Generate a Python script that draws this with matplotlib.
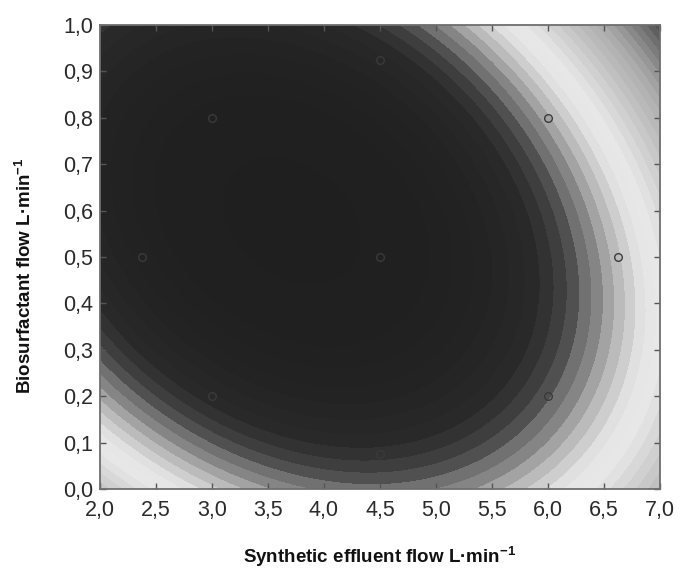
import numpy as np
import matplotlib
matplotlib.use("Agg")
import matplotlib.pyplot as plt
from matplotlib.colors import LinearSegmentedColormap, Normalize

plt.rcParams['font.family'] = ['Liberation Sans', 'DejaVu Sans']
plt.rcParams['mathtext.fontset'] = 'custom'
plt.rcParams['mathtext.rm'] = 'Liberation Sans:bold'
plt.rcParams['mathtext.it'] = 'Liberation Sans:bold'
plt.rcParams['mathtext.bf'] = 'Liberation Sans:bold'

# Fitted quadratic response surface in coded units
# u = (x - x_center) / x_half, v = (y - y_center) / y_half
x_center, x_half = 4.5, 2.5
y_center, y_half = 0.5, 0.5
coef_uu = 1.0
coef_vv = 0.816
coef_uv = 0.50
coef_u = 0.55
coef_v = -0.098

# Experimental design points (central composite design)
design_x = [3.0, 3.0, 6.0, 6.0, 2.379, 6.621, 4.5, 4.5, 4.5]
design_y = [0.2, 0.8, 0.2, 0.8, 0.5, 0.5, 0.076, 0.924, 0.5]

# Gray ramp of the contour fill: (response value, gray level)
ramp_values = [-0.12, 0.30, 0.60, 0.72, 0.84, 0.92, 1.04, 1.12, 1.22, 1.35,
               1.48, 1.60, 1.85, 2.00, 2.20, 2.40, 2.80]
ramp_grays = [0.12, 0.135, 0.16, 0.22, 0.31, 0.44, 0.56, 0.68, 0.78, 0.88,
              0.915, 0.88, 0.78, 0.73, 0.67, 0.56, 0.30]

x_ticks = [2.0, 2.5, 3.0, 3.5, 4.0, 4.5, 5.0, 5.5, 6.0, 6.5, 7.0]
y_ticks = [0.0, 0.1, 0.2, 0.3, 0.4, 0.5, 0.6, 0.7, 0.8, 0.9, 1.0]

xg = np.linspace(2.0, 7.0, 500)
yg = np.linspace(0.0, 1.0, 500)
X, Y = np.meshgrid(xg, yg)
U = (X - x_center) / x_half
V = (Y - y_center) / y_half
Z = coef_uu * U**2 + coef_vv * V**2 + coef_uv * U * V + coef_u * U + coef_v * V

vmin, vmax = ramp_values[0], ramp_values[-1]
pos = [(v - vmin) / (vmax - vmin) for v in ramp_values]
cmap = LinearSegmentedColormap.from_list(
    "grayband", list(zip(pos, [(g, g, g) for g in ramp_grays])))
norm = Normalize(vmin=vmin, vmax=vmax)

fig = plt.figure(figsize=(6.83, 5.69), dpi=100)
ax = fig.add_axes([0.1464, 0.1406, 0.8199, 0.8155])

levels = np.linspace(vmin, vmax, 36)
ax.contourf(X, Y, Z, levels=levels, cmap=cmap, norm=norm, antialiased=False)

ax.plot(design_x, design_y, linestyle='none', marker='o', markersize=5.5,
        markerfacecolor='none', markeredgecolor='#3a3a3a', markeredgewidth=1.0)

ax.set_xlim(2.0, 7.0)
ax.set_ylim(0.0, 1.0)
ax.set_xticks(x_ticks)
ax.set_yticks(y_ticks)
ax.set_xticklabels([f"{t:.1f}".replace('.', ',') for t in x_ticks])
ax.set_yticklabels([f"{t:.1f}".replace('.', ',') for t in y_ticks])
ax.tick_params(direction='in', top=True, right=True, length=4, width=1,
               color='#555555', labelsize=15.5, labelcolor='#2a2a2a')
ax.tick_params(axis='x', pad=8)
ax.tick_params(axis='y', pad=5)
for sp in ax.spines.values():
    sp.set_color('#6e6e6e')
    sp.set_linewidth(1.3)

ax.set_xlabel('Synthetic effluent flow L·min$^{-1}$', fontsize=13.5,
              fontweight='bold', labelpad=17, color='#111111')
ax.set_ylabel('Biosurfactant flow L·min$^{-1}$', fontsize=13.5,
              fontweight='bold', labelpad=20, color='#111111')
ax.yaxis.label.set_y(0.46)

fig.savefig("out.png", dpi=100)
